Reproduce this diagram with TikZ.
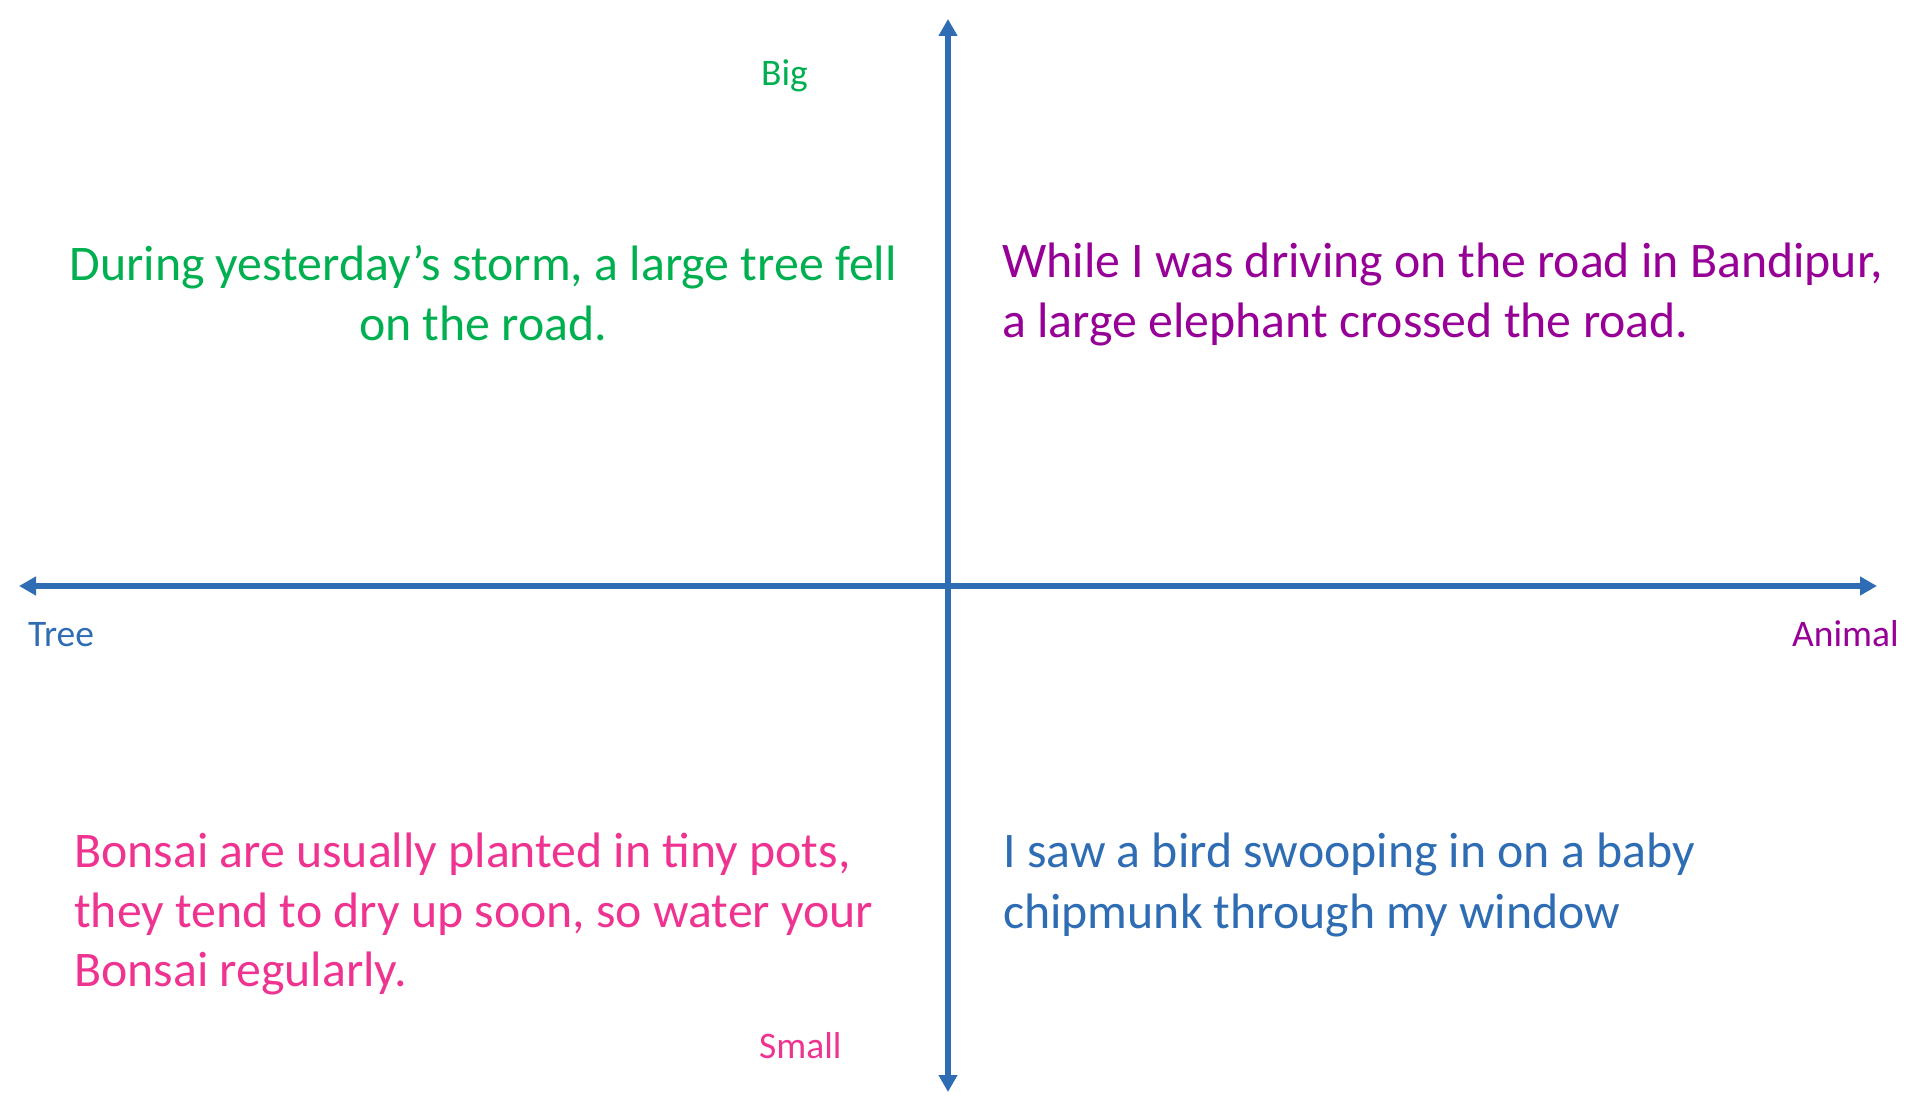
\documentclass[tikz,border=0pt]{standalone}
\usepackage{fontspec}
\setmainfont{Carlito}
\usetikzlibrary{arrows.meta}
\definecolor{axisblue}{HTML}{2E6CB4}
\definecolor{tgreen}{HTML}{00B050}
\definecolor{tpurple}{HTML}{960096}
\definecolor{tpink}{HTML}{EE3490}
\definecolor{tblue}{HTML}{2E6CB4}
\begin{document}
\begin{tikzpicture}[x=1pt,y=-1pt,
  axis/.style={line width=6pt,draw=axisblue,-{Triangle[width=18pt,length=17pt]}},
  big/.style={inner sep=0pt,font=\fontsize{49.8}{60}\selectfont},
  lab/.style={inner sep=0pt,font=\fontsize{37.5}{45}\selectfont}]
\useasboundingbox (0,0) rectangle (1924,1110);
\coordinate (top) at (948,19);
\coordinate (bottom) at (948,1092);
\coordinate (left) at (19,586);
\coordinate (right) at (1877,586);
\coordinate (center) at (948,586);
\draw[axis] (center) -- (top);
\draw[axis] (center) -- (bottom);
\draw[axis] (center) -- (left);
\draw[axis] (center) -- (right);
\node[lab,anchor=base west,text=tgreen] (big) at (761,86) {Big};
\node[lab,anchor=base west,text=tpink] (small) at (759,1058) {Small};
\node[lab,anchor=base west,text=tblue] (tree) at (28,646) {Tree};
\node[lab,anchor=base west,text=tpurple] (animal) at (1792,646) {Animal};
\node[big,anchor=base,text=tgreen] (g1) at (483,280) {During yesterday’s storm, a large tree fell};
\node[big,anchor=base,text=tgreen] (g2) at (483,340) {on the road.};
\node[big,anchor=base west,text=tpurple] (p1) at (1002,277) {While I was driving on the road in Bandipur,};
\node[big,anchor=base west,text=tpurple] (p2) at (1002,337) {a large elephant crossed the road.};
\node[big,anchor=base west,text=tpink] (k1) at (74,867) {Bonsai are usually planted in tiny pots,};
\node[big,anchor=base west,text=tpink] (k2) at (74,927) {they tend to dry up soon, so water your};
\node[big,anchor=base west,text=tpink] (k3) at (74,986) {Bonsai regularly.};
\node[big,anchor=base west,text=tblue] (b1) at (1003,867) {I saw a bird swooping in on a baby};
\node[big,anchor=base west,text=tblue] (b2) at (1003,928) {chipmunk through my window};
\end{tikzpicture}
\end{document}
